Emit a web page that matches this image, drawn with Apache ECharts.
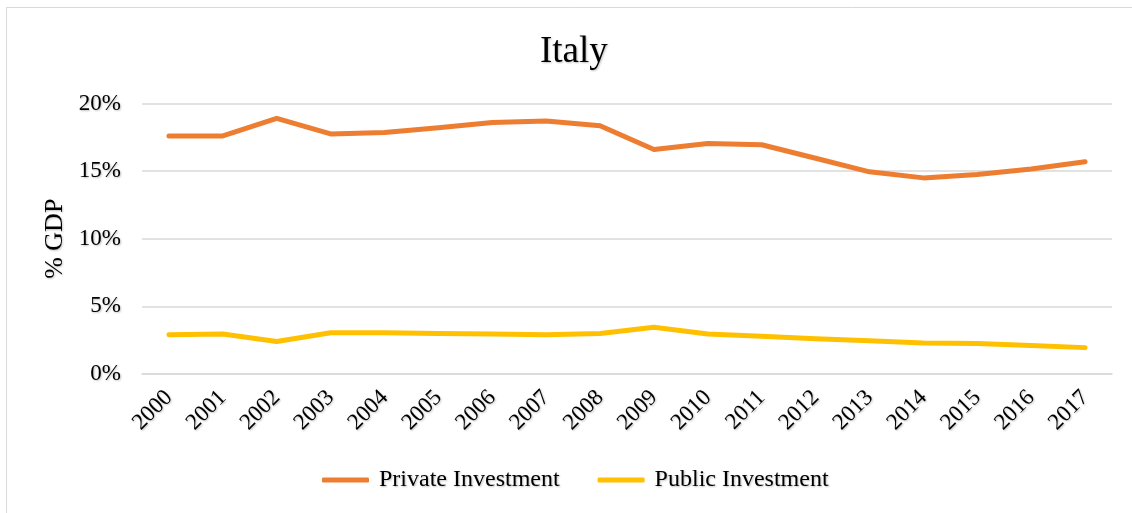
<!DOCTYPE html>
<html>
<head>
<meta charset="utf-8">
<script src="https://cdn.jsdelivr.net/npm/echarts@6/dist/echarts.min.js"></script>
<style>
  html, body { margin: 0; padding: 0; background: #ffffff; }
  #chart { width: 1132px; height: 513px; }
</style>
</head>
<body>
<div id="chart"></div>
<script>
// Investment as a share of GDP, Italy 2000-2017 (percent)
const years = ['2000','2001','2002','2003','2004','2005','2006','2007','2008',
               '2009','2010','2011','2012','2013','2014','2015','2016','2017'];
const privateInvestment = [17.6, 17.6, 18.9, 17.75, 17.85, 18.2, 18.6, 18.7, 18.35,
                           16.6, 17.05, 16.95, 15.95, 14.95, 14.5, 14.75, 15.15, 15.7];
const publicInvestment = [2.9, 2.95, 2.4, 3.05, 3.05, 3.0, 2.95, 2.9, 3.0,
                          3.45, 2.95, 2.8, 2.6, 2.45, 2.3, 2.25, 2.1, 1.95];
const yTicks = { min: 0, max: 20, step: 5 };

const serif = '"Liberation Serif", "Times New Roman", serif';
const shade = { textShadowColor: 'rgba(0,0,0,0.25)', textShadowBlur: 2, textShadowOffsetX: 1, textShadowOffsetY: 1 };

const chart = echarts.init(document.getElementById('chart'), null, { renderer: 'canvas' });
chart.setOption({
  animation: false,
  backgroundColor: '#ffffff',
  graphic: [{
    type: 'rect',
    shape: { x: 6.5, y: 7.5, width: 1200, height: 600 },
    style: { fill: 'none', stroke: '#d9d9d9', lineWidth: 1 },
    silent: true
  }],
  title: {
    text: 'Italy',
    left: 535,
    top: 29,
    textStyle: Object.assign({ fontFamily: serif, fontSize: 37, fontWeight: 'normal', color: '#000' }, shade)
  },
  legend: {
    bottom: 16,
    left: 317,
    itemWidth: 47,
    itemHeight: 5,
    itemGap: 38,
    icon: 'roundRect',
    textStyle: Object.assign({ fontFamily: serif, fontSize: 24, color: '#000', padding: [0, 0, 0, 5] }, shade),
    data: ['Private Investment', 'Public Investment']
  },
  grid: { left: 142, right: 20, top: 103.5, bottom: 139, containLabel: false },
  xAxis: {
    type: 'category',
    data: years,
    boundaryGap: true,
    axisLine: { show: true, lineStyle: { color: '#d9d9d9', width: 1.5 } },
    axisTick: { show: false },
    axisLabel: Object.assign({ rotate: 45, margin: 20, fontFamily: serif, fontSize: 23, color: '#000', interval: 0 }, shade)
  },
  yAxis: {
    type: 'value',
    min: yTicks.min,
    max: yTicks.max,
    interval: yTicks.step,
    name: '% GDP',
    nameLocation: 'middle',
    nameRotate: 90,
    nameGap: 72,
    nameTextStyle: Object.assign({ fontFamily: serif, fontSize: 26, color: '#000' }, shade),
    axisLine: { show: false },
    axisTick: { show: false },
    axisLabel: Object.assign({ margin: 21, fontFamily: serif, fontSize: 23, color: '#000', formatter: v => v + '%' }, shade),
    splitLine: { lineStyle: { color: '#d9d9d9', width: 1.5 } }
  },
  series: [
    {
      name: 'Private Investment',
      type: 'line',
      data: privateInvestment,
      symbol: 'none',
      color: '#ed7d31',
      lineStyle: { width: 5, cap: 'round', join: 'round' }
    },
    {
      name: 'Public Investment',
      type: 'line',
      data: publicInvestment,
      symbol: 'none',
      color: '#ffc000',
      lineStyle: { width: 5, cap: 'round', join: 'round' }
    }
  ]
});
</script>
</body>
</html>
